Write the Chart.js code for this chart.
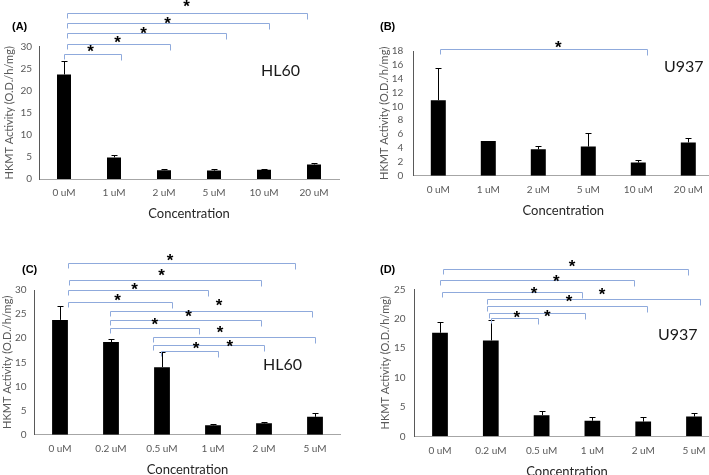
<!DOCTYPE html>
<html>
<head>
<meta charset="utf-8">
<script src="https://cdn.jsdelivr.net/npm/chart.js@4.4.0/dist/chart.umd.min.js"></script>
<style>
  html, body { margin: 0; padding: 0; background: #fff; overflow: hidden; }
  body { width: 709px; height: 475px; position: relative; }
  canvas { position: absolute; }
</style>
</head>
<body>
<canvas id="chartA" width="354" height="230" style="left:0;top:0"></canvas>
<canvas id="chartB" width="370" height="230" style="left:354px;top:0"></canvas>
<canvas id="chartC" width="354" height="260" style="left:0;top:230px"></canvas>
<canvas id="chartD" width="370" height="260" style="left:354px;top:230px"></canvas>
<script>
// --------------------- DATA ---------------------
const labelsAB = ["0 uM", "1 uM", "2 uM", "5 uM", "10 uM", "20 uM"];
const labelsCD = ["0 uM", "0.2 uM", "0.5 uM", "1 uM", "2 uM", "5 uM"];

// (A) HL60
const valuesA = [23.7, 4.9, 2.0, 1.9, 2.1, 3.3];
const errorsA = [3.0, 0.6, 0.3, 0.3, 0.2, 0.4];
// (B) U937
const valuesB = [10.9, 5.0, 3.8, 4.2, 1.9, 4.8];
const errorsB = [4.7, 0.05, 0.5, 1.9, 0.3, 0.7];
// (C) HL60
const valuesC = [23.8, 19.2, 14.0, 1.95, 2.35, 3.7];
const errorsC = [2.9, 0.7, 3.1, 0.25, 0.25, 0.7];
// (D) U937
const valuesD = [17.6, 16.3, 3.6, 2.65, 2.5, 3.35];
const errorsD = [1.8, 3.5, 0.65, 0.55, 0.8, 0.6];

// significance brackets: [from category, to category, bracket level, star category, star level]
const bracketsA = [
  [0, 1.13, 28.3, 0.53, 29.5],
  [0.05, 2.12, 30.7, 1.07, 31.6],
  [0.05, 3.23, 33.0, 1.59, 33.6],
  [0.05, 4.09, 35.3, 2.07, 35.9],
  [0.05, 4.85, 37.7, 2.45, 39.7]
];
const bracketsB = [
  [0.03, 4.17, 18.24, 2.4, 18.96]
];
const bracketsC = [
  [0.16, 4.61, 35.7, 2.16, 36.6],
  [0.18, 3.94, 32.1, 1.99, 33.5],
  [0.16, 2.91, 30.0, 1.46, 30.7],
  [0.16, 2.20, 27.5, 1.13, 28.4],
  [0.99, 4.95, 25.6, 3.12, 27.3],
  [0.99, 3.94, 23.8, 2.52, 25.0],
  [0.99, 2.73, 22.2, 1.86, 23.4],
  [1.82, 5.0, 20.3, 3.14, 21.7],
  [1.82, 4.0, 18.7, 3.33, 18.8],
  [1.99, 3.09, 17.4, 2.67, 18.4]
];
const bracketsD = [
  [0.05, 4.89, 28.5, 2.60, 29.4],
  [0, 3.82, 26.5, 2.29, 26.7],
  [0.03, 2.79, 24.5, 1.85, 24.7],
  [0.93, 5.11, 23.4, 3.19, 24.5],
  [0.93, 4.07, 22.2, 2.54, 23.4],
  [0.97, 2.85, 20.9, 2.11, 20.9],
  [1.01, 1.92, 20.1, 1.51, 20.7]
];

Chart.defaults.font.family = "Lato, 'Open Sans', sans-serif";

// error bars, brackets, panel tag and cell line name
function overlay(p) {
  return {
    id: "overlay",
    afterDatasetsDraw(chart) {
      const ctx = chart.ctx;
      const xs = chart.scales.x, ys = chart.scales.y;
      const meta = chart.getDatasetMeta(0);
      ctx.save();
      ctx.strokeStyle = "#000";
      ctx.lineWidth = 1;
      p.errors.forEach((e, i) => {
        const bar = meta.data[i];
        const cx = Math.round(bar.x) + 0.5;
        const top = Math.round(ys.getPixelForValue(p.values[i] + e)) + 0.5;
        ctx.beginPath();
        ctx.moveTo(cx, bar.y);
        ctx.lineTo(cx, top);
        ctx.moveTo(cx - 3, top);
        ctx.lineTo(cx + 3, top);
        ctx.stroke();
      });

      ctx.strokeStyle = "#8faadc";
      ctx.fillStyle = "#000";
      ctx.font = "bold 17px 'Liberation Sans', Arial, sans-serif";
      ctx.textAlign = "center";
      ctx.textBaseline = "middle";
      p.brackets.forEach(([a, b, lvl, sx, sy]) => {
        const x1 = Math.round(xs.getPixelForValue(a)) + 0.5;
        const x2 = Math.round(xs.getPixelForValue(b)) + 0.5;
        const yy = Math.round(ys.getPixelForValue(lvl)) + 0.5;
        ctx.beginPath();
        ctx.moveTo(x1, yy + 5);
        ctx.lineTo(x1, yy);
        ctx.lineTo(x2, yy);
        ctx.lineTo(x2, yy + 6);
        ctx.stroke();
        ctx.fillText("*", xs.getPixelForValue(sx), ys.getPixelForValue(sy) + 3.5);
      });

      ctx.textAlign = "left";
      ctx.font = "bold 11px 'Liberation Sans', Arial, sans-serif";
      ctx.fillText(p.tag, p.tagPos[0], p.tagPos[1]);
      ctx.fillStyle = "#1a1a1a";
      ctx.font = "16px Lato, 'Open Sans', sans-serif";
      ctx.fillText(p.cell, p.cellPos[0], p.cellPos[1]);
      ctx.restore();
    }
  };
}

function makePanel(id, p) {
  new Chart(document.getElementById(id), {
    type: "bar",
    data: {
      labels: p.labels,
      datasets: [{
        data: p.values,
        backgroundColor: "#000",
        borderWidth: 0,
        categoryPercentage: p.barFrac,
        barPercentage: 1
      }]
    },
    options: {
      responsive: false,
      animation: false,
      events: [],
      layout: { padding: { top: p.top, right: p.right, bottom: p.bottom, left: 0 } },
      plugins: { legend: { display: false }, tooltip: { enabled: false } },
      scales: {
        x: {
          grid: { display: false, drawTicks: false },
          border: { color: "#a6a6a6" },
          ticks: { color: "#595959", font: { size: 10 }, padding: 8, maxRotation: 0, autoSkip: false },
          title: { display: true, text: "Concentration", color: "#262626", font: { size: 13 }, padding: { top: 0, bottom: 2 } },
          afterFit(s) { s.height = 45; s.paddingLeft = 0; s.paddingRight = 0; }
        },
        y: {
          min: 0,
          max: p.yMax,
          grid: { display: false, drawTicks: false },
          border: { color: "#595959" },
          ticks: { stepSize: p.yStep, color: "#595959", font: { size: 10 }, padding: p.tickPad, autoSkip: false },
          title: { display: true, text: "HKMT Activity (O.D./h/mg)", color: "#595959", font: { size: 11 }, padding: { top: p.titlePad, bottom: 0 } },
          afterFit(s) { s.width = p.left; s.paddingTop = 0; s.paddingBottom = 0; }
        }
      }
    },
    plugins: [overlay(p)]
  });
}

makePanel("chartA", {
  labels: labelsAB, values: valuesA, errors: errorsA, brackets: bracketsA,
  yMax: 30, yStep: 5, barFrac: 0.28,
  left: 39, top: 46.7, right: 15, bottom: 6, tickPad: 7, titlePad: 2.4,
  tag: "(A)", tagPos: [12, 27], cell: "HL60", cellPos: [261, 71]
});
makePanel("chartB", {
  labels: labelsAB, values: valuesB, errors: errorsB, brackets: bracketsB,
  yMax: 18, yStep: 2, barFrac: 0.3,
  left: 59.3, top: 51, right: 10.7, bottom: 9.3, tickPad: 10, titlePad: 23.4,
  tag: "(B)", tagPos: [26, 27], cell: "U937", cellPos: [310, 67]
});
makePanel("chartC", {
  labels: labelsCD, values: valuesC, errors: errorsC, brackets: bracketsC,
  yMax: 30, yStep: 5, barFrac: 0.31,
  left: 34.5, top: 60, right: 13.5, bottom: 10.3, tickPad: 8, titlePad: 0.4,
  tag: "(C)", tagPos: [22, 40], cell: "HL60", cellPos: [263, 135]
});
makePanel("chartD", {
  labels: labelsCD, values: valuesD, errors: errorsD, brackets: bracketsD,
  yMax: 25, yStep: 5, barFrac: 0.31,
  left: 60.6, top: 59.3, right: 4.6, bottom: 8.7, tickPad: 9, titlePad: 25,
  tag: "(D)", tagPos: [26, 40], cell: "U937", cellPos: [304, 105]
});
</script>
</body>
</html>
